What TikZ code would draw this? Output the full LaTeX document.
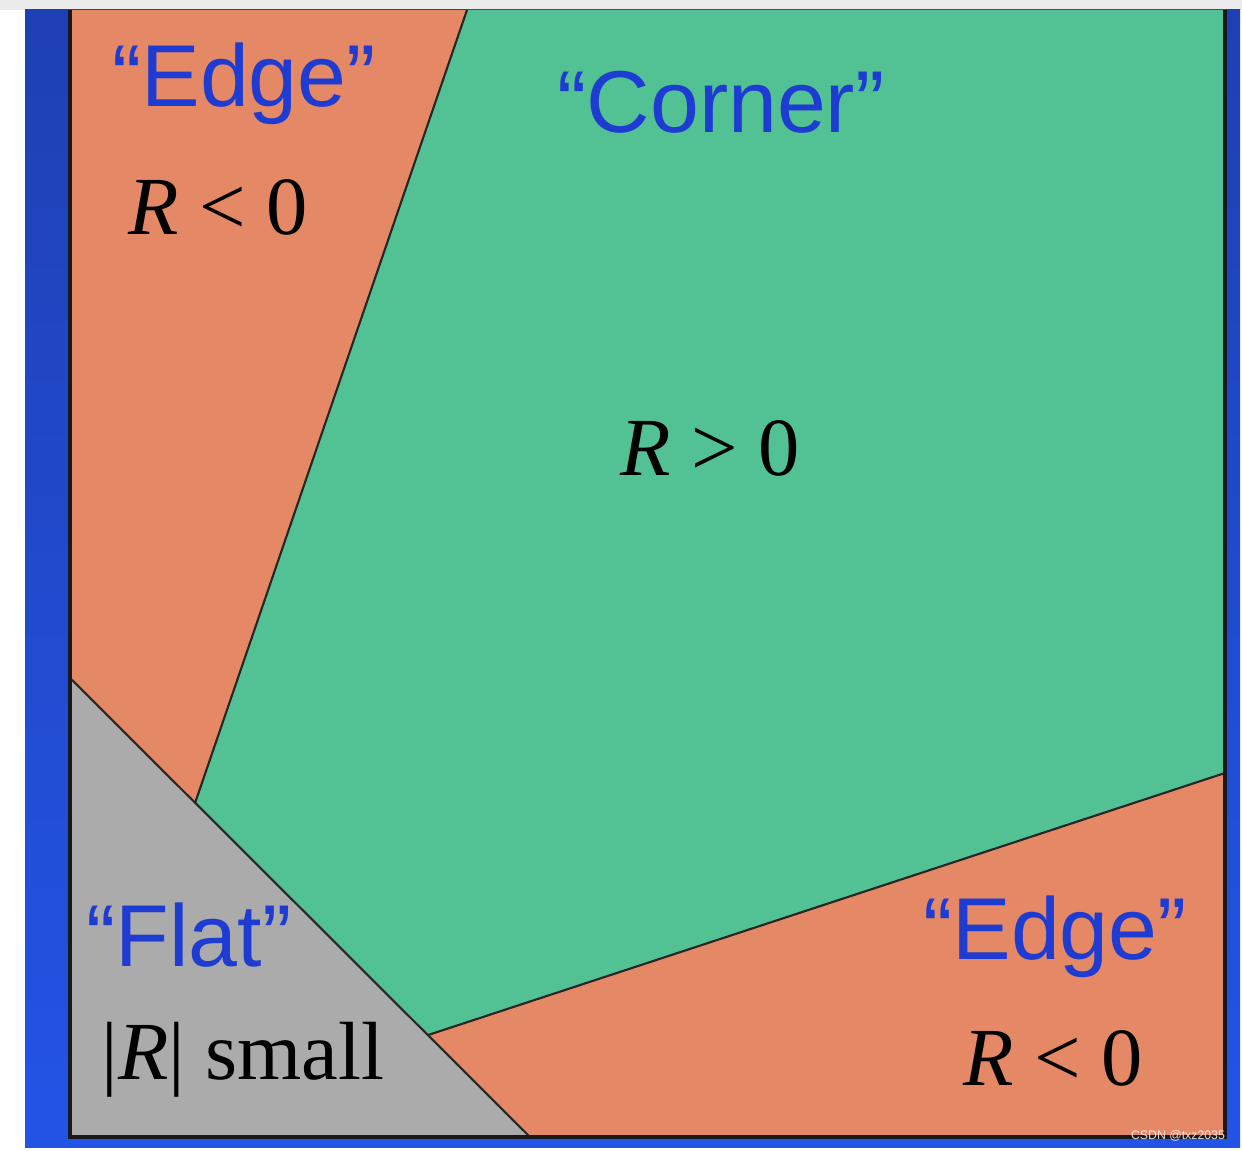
\documentclass[tikz,border=0pt]{standalone}
\usepackage{fontspec}
\setmainfont{Liberation Serif}
\newfontfamily\quotefont{Liberation Sans}
\usepackage{tikz}
\usetikzlibrary{calc}
\usepackage{xcolor}

\definecolor{edgeorange}{HTML}{E48866}
\definecolor{cornergreen}{HTML}{52C294}
\definecolor{flatgray}{HTML}{ABABAB}
\definecolor{labelblue}{HTML}{1E3CD2}
\definecolor{frametop}{HTML}{1F40B4}
\definecolor{framebottom}{HTML}{2354E6}

\tikzset{
  region/.style={draw=black!85, line width=1.2pt, line join=round},
  quotelabel/.style={text=labelblue, font=\quotefont\fontsize{50}{54}\selectfont, inner sep=0pt},
  rlabel/.style={text=black, font=\fontsize{47}{52}\selectfont, inner sep=0pt},
}

\begin{document}
\begin{tikzpicture}[x=0.02cm, y=-0.02cm]
        \useasboundingbox (0,0) rectangle (1242,1151);
        \fill[white] (0,0) rectangle (1242,1151);
        \fill[black!8] (0,0) rectangle (1242,10);
        \fill[top color=frametop, bottom color=framebottom] (25,10) rectangle (1240,1148);

        % corners of the plot
        \coordinate (tl) at (70,10);
        \coordinate (tr) at (1225,10);
        \coordinate (bl) at (70,1137);
        \coordinate (br) at (1225,1137);
        % region boundaries
        \coordinate (ctop) at (467,10);
        \coordinate (cright) at (1225,773);
        \coordinate (fleft) at (70,678);
        \coordinate (fbot) at (530,1137);
        \coordinate (cleft) at ($(fleft)!0.272!(fbot)$);
        \coordinate (cbot) at ($(fleft)!0.778!(fbot)$);

        \fill[edgeorange] (tl) rectangle (br);
        \fill[cornergreen] (ctop) -- (tr) -- (cright) -- (cbot) -- (cleft) -- cycle;
        \fill[flatgray] (fleft) -- (bl) -- (fbot) -- cycle;

        \draw[region] (ctop) -- (cleft);
        \draw[region] (cbot) -- (cright);
        \draw[region] (fleft) -- (fbot);
        \draw[black!90, line width=1.8pt, line join=miter] (tl) -- (bl) -- (br) -- (tr);

        \node (edge1) at (244,84) [quotelabel] {“Edge”};
        \node (rneg1) at (218,207) [rlabel] {\textit{R} < 0};
        \node (corner) at (721,102) [quotelabel] {“Corner”};
        \node (rpos) at (710,448) [rlabel] {\textit{R} > 0};
        \node (flat) at (189,935) [quotelabel] {“Flat”};
        \node (rsmall) at (243,1060) [rlabel] {|\textit{R}| small};
        \node (edge2) at (1055,937) [quotelabel] {“Edge”};
        \node (rneg2) at (1053,1058) [rlabel] {\textit{R} < 0};

        \node (mark) at (1178,1136) [text=white, opacity=0.85, font=\quotefont\fontsize{7}{8}\selectfont, inner sep=0pt] {CSDN @txz2035};
    \end{tikzpicture}
\end{document}
